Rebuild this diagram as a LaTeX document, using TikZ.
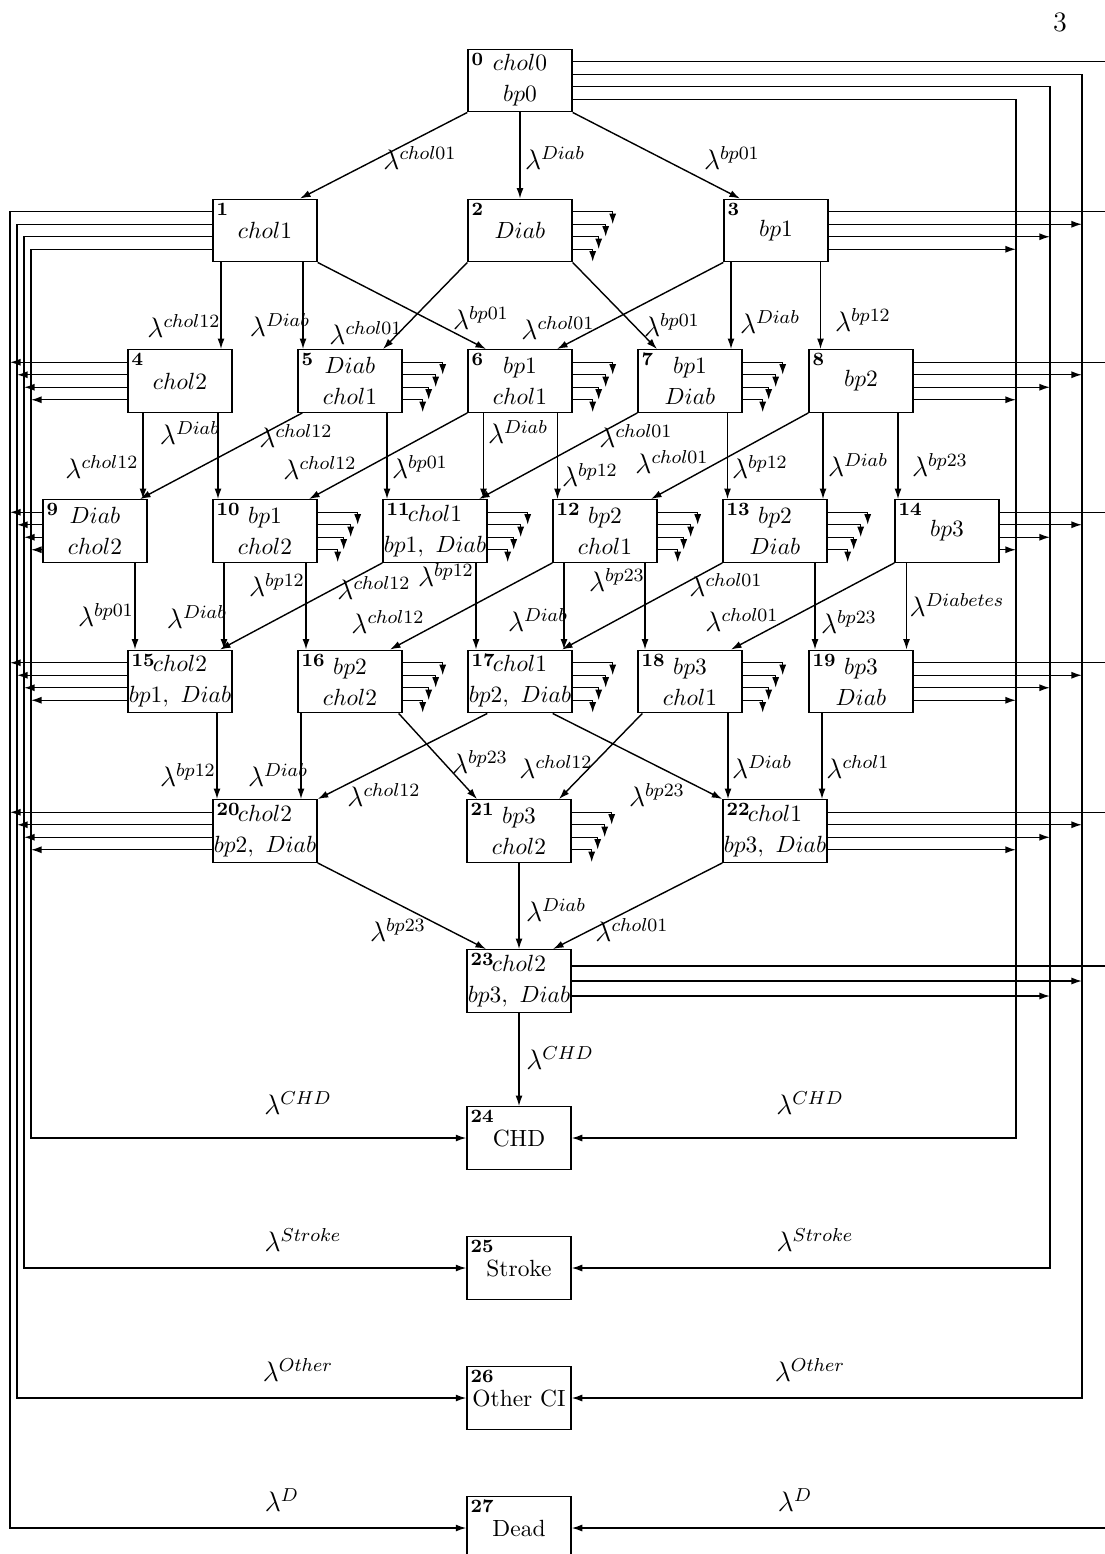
\documentclass[tikz,border=0pt]{standalone}
\usepackage{amsmath,amssymb}
\usetikzlibrary{arrows.meta,calc}

\begin{document}
\begin{tikzpicture}[x=0.015cm,y=-0.015cm,line width=.6pt,
  st/.style={draw,minimum width=1.56cm,minimum height=.9375cm,inner sep=0pt,align=center},
  num/.style={anchor=north west,inner sep=1.5pt,font=\footnotesize\bfseries},
  lb/.style={font=\large,inner sep=0pt},
  tr/.style={-{Latex[length=4.5pt,width=3pt]}}]
\useasboundingbox (0,0) rectangle (1105,1554);
\clip (0,0) rectangle (1105,1554);
\node (pg) at (1060,22) {\large 3};
% states, two lines
\foreach \n/\x/\y/\one/\two in {0/520/80.5/chol0/bp0, 5/350/381/Diab/chol1, 6/520/381/bp1/chol1,
  7/690/381/bp1/Diab, 9/95/531/Diab/chol2, 10/265/531/bp1/chol2, 11/435/531/chol1/{bp1,\ Diab},
  12/605/531/bp2/chol1, 13/775/531/bp2/Diab, 15/180/681.5/chol2/{bp1,\ Diab}, 16/350/681.5/bp2/chol2,
  17/520/681.5/chol1/{bp2,\ Diab}, 18/690/681.5/bp3/chol1, 19/861/681.5/bp3/Diab,
  20/265/831/chol2/{bp2,\ Diab}, 21/519/831/bp3/chol2, 22/775/831/chol1/{bp3,\ Diab},
  23/519/981/chol2/{bp3,\ Diab}}
  \node[st,label={[num]north west:\n}] (s\n) at (\x,\y) {\makebox[0pt]{$\one$}\\[1.2pt]\makebox[0pt]{$\two$}};
% states, one line
\foreach \n/\x/\y/\one in {1/265/230.5/$chol1$, 2/520/230.5/$Diab$, 3/776/230.5/$bp1$, 4/180/381/$chol2$,
  8/861/381/$bp2$, 14/947/531/$bp3$, 24/519/1138/CHD, 25/519/1268/Stroke, 26/519/1398/Other CI,
  27/519/1528/Dead}
  \node[st,label={[num]north west:\n}] (s\n) at (\x,\y) {\makebox[0pt]{\one}};
% buses to the absorbing states
\coordinate (bD) at (10,0); \coordinate (bO) at (17,0); \coordinate (bS) at (24,0); \coordinate (bC) at (31,0);
\coordinate (rD) at (1116,0); \coordinate (rO) at (1082,0); \coordinate (rS) at (1050,0); \coordinate (rC) at (1016,0);
\foreach \dy/\lft/\rgt/\tg in {-18.75/bD/rD/s27,-6.25/bO/rO/s26,6.25/bS/rS/s25,18.75/bC/rC/s24}{
  \draw[tr] ($(s1.west)+(0,\dy)$) coordinate (a) -- (a -| \lft) |- (\tg.west);
  \draw[tr] ($(s0.east)+(0,\dy)$) coordinate (a) -- (a -| \rgt) |- (\tg.east);
  \foreach \n in {4,9,15,20} \draw[tr] ($(s\n.west)+(0,\dy)$) coordinate (a) -- (a -| \lft);
  \foreach \n in {3,8,14,19,22} \draw[tr] ($(s\n.east)+(0,\dy)$) coordinate (a) -- (a -| \rgt);
}
\foreach \dy/\rgt in {-15/rD,0/rO,15/rS} \draw[tr] ($(s23.east)+(0,\dy)$) coordinate (a) -- (a -| \rgt);
% short exits of the inner states
\foreach \n in {2,5,6,7,10,11,12,13,16,17,18,21}
  \foreach \dy/\dx in {-18.75/40,-6.25/33,6.25/26,18.75/20}
    \draw[tr] ($(s\n.east)+(0,\dy)$) -- ++(\dx,0) -- ++(0,12.5);
% vertical transitions
\foreach \a/\dx/\b in {0/0/2, 1/-44/4, 1/38/5, 3/-45/7, 3/44.5/8, 4/-37/9, 4/38/10, 5/37/11, 6/-36.5/11,
  6/37.5/12, 7/37.5/13, 8/-38/13, 8/37/14, 9/40/15, 10/-41/15, 10/41/16, 11/41/17, 12/-41/17, 12/40/18,
  13/40/19, 14/-40.5/19, 15/37/20, 16/-49/20, 18/38/22, 19/-39/22, 21/0/23, 23/0/24}
  \draw[tr] ($(s\a.south)+(\dx,0)$) coordinate (p) -- (p |- s\b.north);
% slanted transitions
\foreach \a/\da/\b/\db in {s0.south west/0/s1.north/35, s0.south east/0/s3.north/-36,
  s1.south east/0/s6.north/-34, s2.south west/0/s5.north/33, s2.south east/0/s7.north/-33,
  s3.south west/0/s6.north/37, s5.south west/5/s9.north/45, s6.south west/0/s10.north/44,
  s7.south west/0/s11.north/44, s8.south west/0/s12.north/46, s11.south west/0/s15.north/40,
  s12.south west/0/s16.north/40, s13.south west/0/s17.north/42, s14.south west/0/s18.north/41,
  s16.south east/-4/s21.north/-42, s17.south west/20/s20.north east/0, s17.south east/-20/s22.north west/0,
  s18.south west/5/s21.north/40, s20.south east/0/s23.north/-33, s22.south west/0/s23.north/34}
  \draw[tr] ($(\a)+(\da,0)$) -- ($(\b)+(\db,0)$);
% rates
\foreach \x/\y/\sp [count=\i] in {420/158/chol01, 555/158/Diab, 732/158/bp01,
  184/326/chol12, 280/325/Diab, 366/333/chol01, 481/318/bp01, 558/328/chol01, 672/325/bp01,
  770/322/Diab, 863/320/bp12,
  190/433/Diab, 296/436/chol12, 102/467/chol12, 320/468/chol12, 420/467/bp01, 518/432/Diab,
  636/436/chol01, 590/475/bp12, 672/462/chol01, 760/467/bp12, 858/465/Diab, 940/465/bp23,
  277/585/bp12, 446/575/bp12, 374/588/chol12, 106/615/bp01, 197/617/Diab, 388/622/chol12,
  538/620/Diab, 617/580/bp23, 726/585/chol01, 742/620/chol01, 849/622/bp23, 957/605/Diabetes,
  188/775/bp12, 278/775/Diab, 480/762/bp23, 556/767/chol12, 384/795/chol12, 657/795/bp23,
  762/767/Diab, 858/767/chol1,
  398/930/bp23, 556/910/Diab, 632/930/chol01, 560/1058/CHD,
  298/1103/CHD, 810/1103/CHD, 303/1240/Stroke, 815/1240/Stroke,
  298/1370/Other, 810/1370/Other, 282/1500/D, 795/1500/D}
  \node[lb] (l\i) at (\x,\y) {$\lambda^{\sp}$};
\end{tikzpicture}
\end{document}
